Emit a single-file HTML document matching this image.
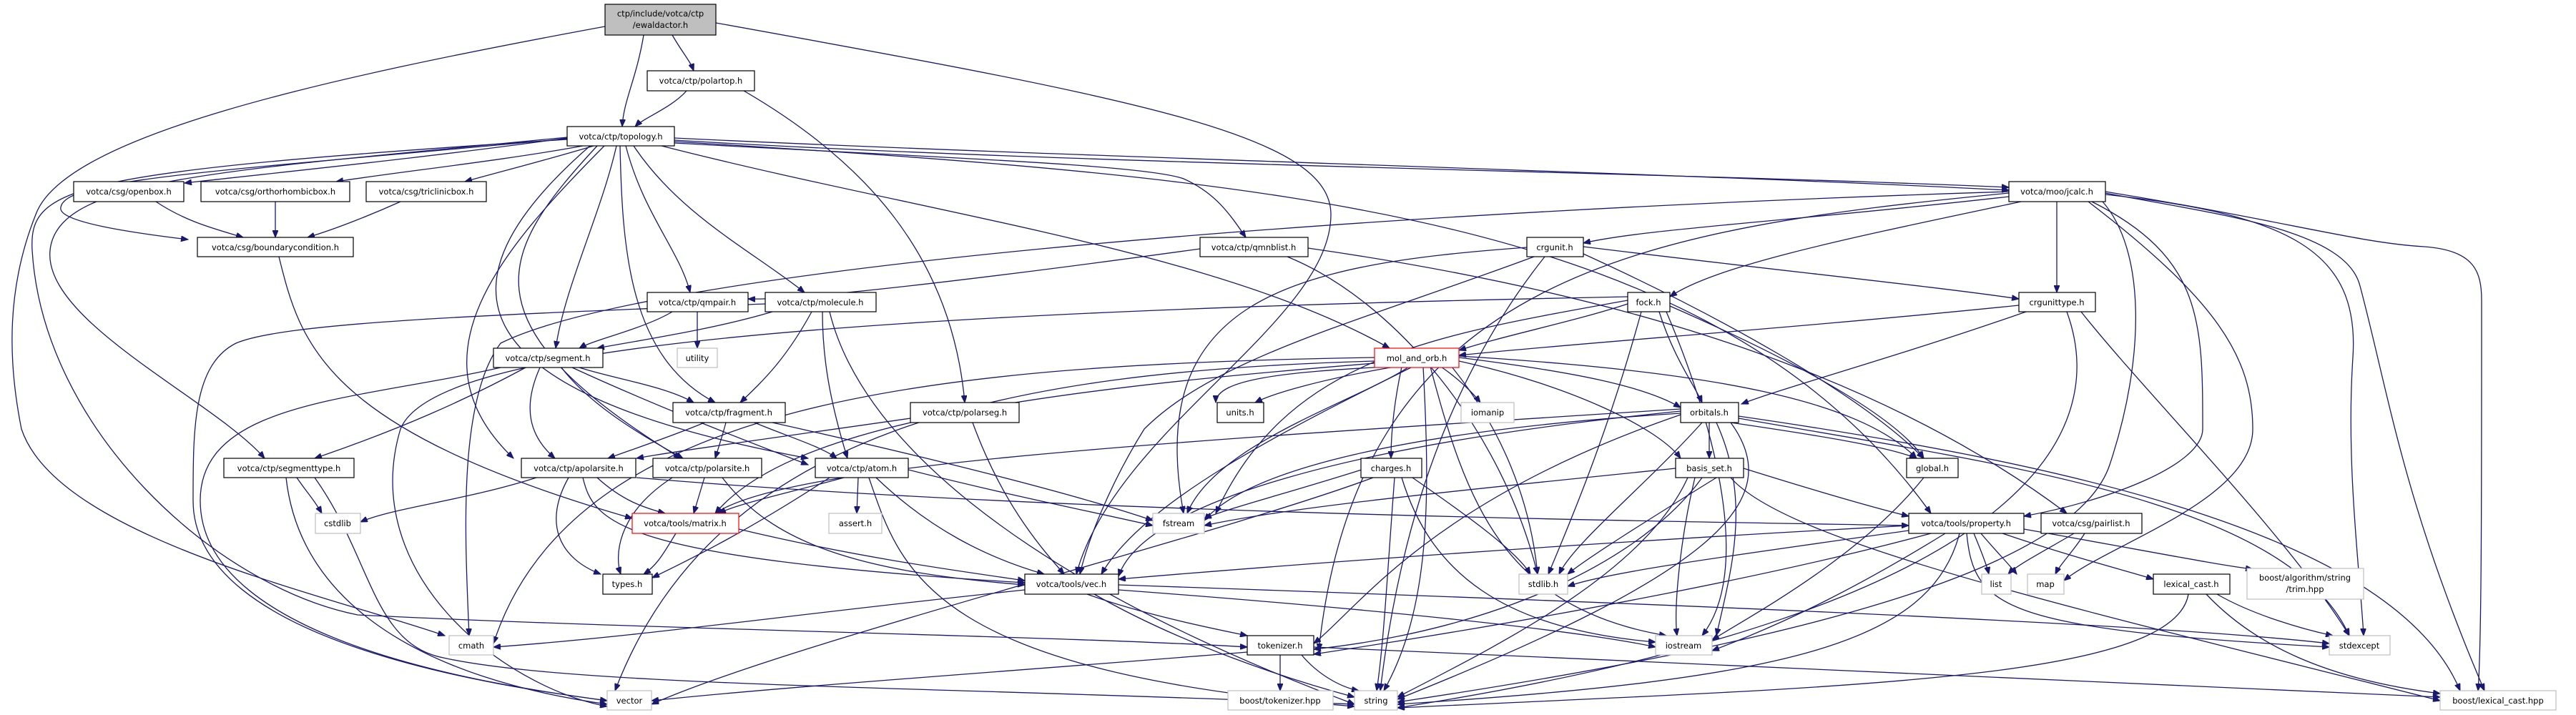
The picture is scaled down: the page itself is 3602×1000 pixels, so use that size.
<!DOCTYPE html>
<html><head><meta charset="utf-8"><style>
html,body{margin:0;padding:0;background:#fff;width:3602px;height:1000px;overflow:hidden}
svg{display:block}
text{font-family:"DejaVu Sans","Liberation Sans",sans-serif;font-size:11.5px;fill:#000}
.e path{fill:none;stroke:#191970;stroke-width:1.3}
.n{fill:#fff;stroke:#000;stroke-width:1.2}
.g{fill:#fff;stroke:#bfbfbf;stroke-width:1.2}
.r{fill:#fff;stroke:#ff0000;stroke-width:1.2}
</style></head><body>
<svg width="3602" height="1000" viewBox="0 0 3602 1000" xmlns="http://www.w3.org/2000/svg">
<defs><marker id="a" markerWidth="11" markerHeight="8" refX="10" refY="4" orient="auto" markerUnits="userSpaceOnUse"><path d="M0,0 L10,4 L0,8 z" fill="#191970" stroke="#191970"/></marker></defs>
<g class="e" marker-end="url(#a)">
<!-- ewald -->
<path d="M900 49 C890 110 872 140 870 177"/>
<path d="M940 49 C955 75 965 85 970 99"/>
<path d="M846 37 C450 110 90 190 50 300 C10 400 10 500 30 600 C80 750 450 830 622 889"/>
<path d="M1001 32 C1600 140 1861 190 1861 300 C1861 450 1560 600 1505 803"/>
<!-- polartop -->
<path d="M960 127 C940 150 900 165 888 177"/>
<path d="M1040 127 C1200 220 1330 350 1349 563"/>
<!-- topology -->
<path d="M793 193 C600 220 400 240 258 256"/>
<path d="M815 204 C700 225 560 240 470 254"/>
<path d="M830 204 C760 225 700 240 650 254"/>
<path d="M793 194 C300 240 90 250 85 290 C80 310 180 325 263 335"/>
<path d="M793 192 C300 240 80 250 70 350 C60 450 300 560 370 641"/>
<path d="M793 195 C100 240 40 260 45 350 C60 600 300 820 500 860 C900 880 1500 890 1744 905"/>
<path d="M862 204 C840 300 790 400 777 487"/>
<path d="M867 204 C870 350 880 500 1000 563"/>
<path d="M845 204 C700 350 570 500 718 641"/>
<path d="M835 204 C700 350 640 450 952 641"/>
<path d="M825 204 C600 400 640 550 1130 641"/>
<path d="M886 204 C950 300 1050 350 1125 409"/>
<path d="M875 204 C900 300 950 350 965 409"/>
<path d="M943 200 C1300 220 1600 230 1655 250 C1700 270 1720 300 1742 332"/>
<path d="M943 196 C1500 230 2300 240 2809 262"/>
<path d="M943 193 C1500 220 2300 240 2809 266"/>
<path d="M925 204 C1300 300 1700 350 1943 487"/>
<path d="M943 198 C1800 250 2400 300 2700 718"/>
<!-- boxes -->
<path d="M218 282 C260 310 300 320 340 332"/>
<path d="M385 282 L385 332"/>
<path d="M560 282 C520 300 470 320 430 332"/>
<path d="M390 359 C420 480 450 600 884 725"/>
<!-- qmpair, molecule -->
<path d="M940 436 C900 460 830 475 810 487"/>
<path d="M975 436 L975 487"/>
<path d="M1080 436 C1000 460 900 475 835 487"/>
<path d="M1135 436 C1100 500 1070 530 1035 563"/>
<path d="M1150 436 C1150 500 1160 560 1185 641"/>
<path d="M1070 425 C700 440 400 450 330 480 C270 510 270 600 270 700 C270 900 700 960 849 980"/>
<path d="M1160 436 C1200 600 1400 800 1894 985"/>
<!-- segment -->
<path d="M735 514 C650 560 560 600 440 641"/>
<path d="M755 514 C730 570 740 610 776 641"/>
<path d="M785 514 C820 560 880 600 955 641"/>
<path d="M810 514 C860 530 930 540 970 563"/>
<path d="M800 514 C900 560 1000 600 1130 650"/>
<path d="M700 514 C500 560 280 560 280 700 C280 900 700 960 849 980"/>
<!-- fragment -->
<path d="M985 591 C940 610 880 630 850 641"/>
<path d="M1015 591 C1010 610 1005 625 1000 641"/>
<path d="M1055 591 C1100 610 1150 625 1170 641"/>
<path d="M1080 591 C1300 640 1500 690 1612 728"/>
<!-- polarseg -->
<path d="M1273 585 C1100 610 950 630 890 641"/>
<path d="M1360 591 C1400 700 1450 760 1488 803"/>
<!-- segmenttype -->
<path d="M415 668 C430 690 440 700 450 718"/>
<path d="M400 668 C420 850 600 950 849 985"/>
<path d="M440 668 C520 780 520 900 620 920 C800 960 1300 960 1894 985"/>
<!-- apolarsite -->
<path d="M750 668 C650 700 550 710 504 730"/>
<path d="M835 668 C870 700 900 710 930 718"/>
<path d="M795 668 C760 730 780 780 840 803"/>
<path d="M815 668 C830 730 860 780 1433 815"/>
<path d="M890 668 C1500 720 2400 730 2669 735"/>
<!-- polarsite -->
<path d="M985 668 L970 718"/>
<path d="M940 668 C860 720 860 780 868 803"/>
<path d="M1010 668 C1080 760 1200 800 1433 818"/>
<!-- atom -->
<path d="M1180 668 C1100 690 1030 705 1005 718"/>
<path d="M1160 668 C1050 740 970 780 912 808"/>
<path d="M1200 668 L1198 718"/>
<path d="M1225 668 C1300 740 1380 780 1460 803"/>
<path d="M1270 657 C1400 690 1500 710 1612 735"/>
<path d="M1215 668 C1260 800 1300 940 1894 988"/>
<!-- matrix -->
<path d="M945 746 C930 770 920 790 900 803"/>
<path d="M1033 740 C1200 780 1350 800 1433 812"/>
<!-- vec -->
<path d="M1433 825 C1100 860 900 890 690 905"/>
<path d="M1520 831 C1600 860 1700 880 1744 889"/>
<path d="M1564 825 C1900 850 2200 880 2315 905"/>
<path d="M1530 831 C1650 900 1800 950 1894 975"/>
<path d="M1564 818 C2200 840 3000 870 3257 900"/>
<!-- tokenizer -->
<path d="M1744 912 C1400 940 1100 960 911 980"/>
<path d="M1820 916 C1840 940 1870 960 1900 966"/>
<path d="M1790 916 L1790 966"/>
<path d="M1837 905 C2400 930 3100 960 3412 975"/>
<!-- qmnblist -->
<path d="M1678 348 C1300 400 1100 420 1046 418"/>
<path d="M1829 347 C2200 400 2600 500 2890 718"/>
<path d="M1800 359 C1950 420 2100 600 2150 803"/>
<!-- crgunit -->
<path d="M2214 345 C2500 380 2700 400 2823 418"/>
<path d="M2214 355 C2400 440 2600 550 2690 641"/>
<path d="M2145 359 C1900 450 1700 500 1600 600 C1550 680 1520 760 1510 803"/>
<path d="M2160 359 C2000 560 1950 800 1930 966"/>
<path d="M2135 346 C1800 370 1600 420 1655 718"/>
<!-- jcalc -->
<path d="M2876 282 L2876 409"/>
<path d="M2809 275 C2500 310 2300 320 2214 340"/>
<path d="M2826 282 C2600 330 2400 370 2335 415"/>
<path d="M2925 282 C3080 360 3080 450 3080 600 C3080 650 2950 700 2830 722"/>
<path d="M2944 272 C3200 300 3300 350 3290 500 C3280 650 3300 800 3305 889"/>
<path d="M2944 270 C3100 300 3280 320 3300 400 C3340 550 3360 700 3474 966"/>
<path d="M2944 268 C3200 310 3300 340 3390 345 C3460 350 3470 380 3470 420 C3470 700 3470 900 3465 966"/>
<path d="M2920 282 C3100 420 3150 500 3150 600 C3150 700 2950 760 2886 812"/>
<path d="M2809 270 C2300 320 1900 380 1844 910"/>
<path d="M2940 282 C3000 350 3000 500 2950 650 C2900 800 2500 900 1954 982"/>
<path d="M2809 268 C1800 300 900 380 700 480 C640 560 650 750 656 889"/>
<!-- crgunittype -->
<path d="M2833 436 C2650 500 2500 540 2435 565"/>
<path d="M2823 427 C2500 460 2200 480 2040 497"/>
<path d="M2910 436 C3000 550 3200 750 3285 889"/>
<path d="M2890 436 C2950 600 2850 850 1954 990"/>
<!-- fock -->
<path d="M2276 425 C2200 450 2100 470 2040 490"/>
<path d="M2320 436 C2340 500 2370 540 2380 563"/>
<path d="M2335 428 C2500 500 2650 580 2690 641"/>
<path d="M2295 436 C2250 600 2200 720 2165 803"/>
<path d="M2276 420 C2000 470 1800 500 1700 718"/>
<path d="M2330 436 C2400 600 2450 800 2380 889"/>
<path d="M2276 415 C1000 440 600 500 560 600 C500 800 700 960 849 988"/>
<!-- mol_and_orb -->
<path d="M1950 513 C1850 530 1780 550 1755 563"/>
<path d="M2015 513 C2040 530 2060 550 2070 563"/>
<path d="M1970 513 C1900 560 1700 620 1660 718"/>
<path d="M1960 513 C1950 560 1945 600 1945 641"/>
<path d="M2040 505 C2200 540 2320 600 2350 641"/>
<path d="M2040 500 C2200 520 2300 540 2350 570"/>
<path d="M2040 498 C2400 520 2600 560 2680 641"/>
<path d="M2030 513 C2100 600 2140 700 2150 803"/>
<path d="M1990 513 C2000 700 2000 850 1935 966"/>
<path d="M2000 513 C2050 700 2100 850 2330 889"/>
<path d="M1922 505 C1400 520 1000 600 860 966"/>
<path d="M1975 513 C1800 600 1600 700 1540 803"/>
<path d="M1922 508 C1400 550 1100 600 1000 718"/>
<path d="M1940 513 C1800 520 1700 530 1700 563"/>
<path d="M1922 500 C1300 510 800 560 690 900"/>
<!-- orbitals -->
<path d="M2390 591 L2390 641"/>
<path d="M2420 591 C2550 610 2640 625 2680 641"/>
<path d="M2350 578 C2000 600 1750 650 1684 728"/>
<path d="M2380 591 C2300 680 2200 760 2180 803"/>
<path d="M2350 575 C1900 620 1600 700 1564 806"/>
<path d="M2400 591 C2450 700 2420 800 2400 889"/>
<path d="M2350 572 C1600 620 1100 650 1000 718"/>
<path d="M2420 591 C2500 700 2400 800 1954 978"/>
<path d="M2431 585 C2800 650 3200 700 3285 889"/>
<path d="M2431 582 C2900 650 3350 750 3440 966"/>
<path d="M2350 580 C2000 700 1900 850 1837 900"/>
<!-- charges -->
<path d="M1910 655 C1800 690 1720 710 1684 725"/>
<path d="M1975 668 C2050 720 2120 770 2140 803"/>
<path d="M1950 668 C1940 800 1935 900 1925 966"/>
<path d="M1960 668 C2000 800 2100 880 2315 898"/>
<path d="M1920 668 C1700 750 1100 900 911 985"/>
<!-- basis_set -->
<path d="M2343 655 C2000 690 1800 710 1684 735"/>
<path d="M2438 655 C2550 690 2620 710 2669 722"/>
<path d="M2400 668 C2300 730 2220 780 2192 803"/>
<path d="M2370 668 C2350 750 2340 850 2345 889"/>
<path d="M2360 668 C2300 800 2100 900 1954 975"/>
<path d="M2380 668 C2300 780 2100 880 1837 908"/>
<path d="M2420 668 C2500 760 2900 850 3412 980"/>
<!-- global -->
<path d="M2690 668 C2600 780 2450 860 2394 895"/>
<!-- property -->
<path d="M2760 746 C2770 770 2778 790 2781 803"/>
<path d="M2770 746 C2790 770 2810 790 2820 803"/>
<path d="M2800 746 C2900 780 2980 800 3011 810"/>
<path d="M2830 740 C3000 770 3100 790 3150 796"/>
<path d="M2750 746 C2760 850 2800 880 3257 905"/>
<path d="M2669 735 C2200 760 1800 790 1564 810"/>
<path d="M2700 746 C2500 800 2200 860 1837 915"/>
<path d="M2669 742 C2400 780 2250 800 2192 820"/>
<path d="M2720 746 C2600 820 2500 870 2394 910"/>
<path d="M2740 746 C2700 900 2500 950 1954 985"/>
<!-- pairlist -->
<path d="M2900 746 C2860 770 2820 790 2808 803"/>
<path d="M2915 746 C2900 770 2880 790 2874 803"/>
<!-- lexical_cast -->
<path d="M3100 831 C3150 860 3220 880 3262 889"/>
<path d="M3085 831 C3150 900 3250 950 3412 970"/>
<path d="M3060 831 C3040 950 2600 960 1954 990"/>
</g>
<!-- nodes -->
<rect x="846" y="6" width="155" height="43" fill="#bfbfbf" stroke="#000" stroke-width="1.2"/>
<text x="923.5" y="23" text-anchor="middle">ctp/include/votca/ctp</text>
<text x="923.5" y="39" text-anchor="middle">/ewaldactor.h</text>
<g text-anchor="middle">
<rect class="n" x="905" y="99" width="150" height="28"/><text x="980" y="117">votca/ctp/polartop.h</text>
<rect class="n" x="793" y="177" width="150" height="27"/><text x="868" y="195">votca/ctp/topology.h</text>
<rect class="n" x="103" y="254" width="154" height="28"/><text x="180" y="272">votca/csg/openbox.h</text>
<rect class="n" x="281" y="254" width="208" height="28"/><text x="385" y="272">votca/csg/orthorhombicbox.h</text>
<rect class="n" x="512" y="254" width="168" height="28"/><text x="596" y="272">votca/csg/triclinicbox.h</text>
<rect class="n" x="276" y="332" width="218" height="27"/><text x="385" y="350">votca/csg/boundarycondition.h</text>
<rect class="n" x="2809" y="254" width="135" height="28"/><text x="2876" y="272">votca/moo/jcalc.h</text>
<rect class="n" x="1678" y="332" width="151" height="27"/><text x="1753" y="350">votca/ctp/qmnblist.h</text>
<rect class="n" x="2135" y="332" width="79" height="27"/><text x="2174" y="350">crgunit.h</text>
<rect class="n" x="905" y="409" width="141" height="27"/><text x="975" y="427">votca/ctp/qmpair.h</text>
<rect class="n" x="1070" y="409" width="155" height="27"/><text x="1147" y="427">votca/ctp/molecule.h</text>
<rect class="n" x="2276" y="409" width="59" height="27"/><text x="2305" y="427">fock.h</text>
<rect class="n" x="2823" y="409" width="107" height="27"/><text x="2876" y="427">crgunittype.h</text>
<rect class="n" x="690" y="487" width="153" height="27"/><text x="766" y="505">votca/ctp/segment.h</text>
<rect class="g" x="947" y="487" width="56" height="27"/><text x="975" y="505">utility</text>
<rect class="r" x="1922" y="487" width="118" height="27"/><text x="1981" y="505">mol_and_orb.h</text>
<rect class="n" x="941" y="563" width="157" height="28"/><text x="1019" y="581">votca/ctp/fragment.h</text>
<rect class="n" x="1273" y="563" width="152" height="28"/><text x="1349" y="581">votca/ctp/polarseg.h</text>
<rect class="n" x="1702" y="563" width="65" height="28"/><text x="1734" y="581">units.h</text>
<rect class="g" x="2043" y="563" width="74" height="28"/><text x="2080" y="581">iomanip</text>
<rect class="n" x="2350" y="563" width="81" height="28"/><text x="2390" y="581">orbitals.h</text>
<rect class="n" x="313" y="641" width="182" height="27"/><text x="404" y="659">votca/ctp/segmenttype.h</text>
<rect class="n" x="729" y="641" width="160" height="27"/><text x="809" y="659">votca/ctp/apolarsite.h</text>
<rect class="n" x="913" y="641" width="152" height="27"/><text x="989" y="659">votca/ctp/polarsite.h</text>
<rect class="n" x="1140" y="641" width="130" height="27"/><text x="1205" y="659">votca/ctp/atom.h</text>
<rect class="n" x="1903" y="641" width="85" height="27"/><text x="1945" y="659">charges.h</text>
<rect class="n" x="2343" y="641" width="95" height="27"/><text x="2390" y="659">basis_set.h</text>
<rect class="n" x="2666" y="641" width="72" height="27"/><text x="2702" y="659">global.h</text>
<rect class="g" x="441" y="718" width="63" height="28"/><text x="472" y="736">cstdlib</text>
<rect class="r" x="884" y="718" width="149" height="28"/><text x="958" y="736">votca/tools/matrix.h</text>
<rect class="g" x="1159" y="718" width="74" height="28"/><text x="1196" y="736">assert.h</text>
<rect class="g" x="1612" y="718" width="72" height="28"/><text x="1648" y="736">fstream</text>
<rect class="n" x="2669" y="718" width="161" height="28"/><text x="2749" y="736">votca/tools/property.h</text>
<rect class="n" x="2854" y="718" width="141" height="28"/><text x="2924" y="736">votca/csg/pairlist.h</text>
<rect class="n" x="843" y="803" width="69" height="28"/><text x="877" y="821">types.h</text>
<rect class="n" x="1433" y="803" width="131" height="28"/><text x="1498" y="821">votca/tools/vec.h</text>
<rect class="g" x="2124" y="803" width="68" height="28"/><text x="2158" y="821">stdlib.h</text>
<rect class="g" x="2771" y="803" width="41" height="28"/><text x="2791" y="821">list</text>
<rect class="g" x="2835" y="803" width="51" height="28"/><text x="2860" y="821">map</text>
<rect class="n" x="3011" y="803" width="107" height="28"/><text x="3064" y="821">lexical_cast.h</text>
<rect class="g" x="3142" y="795" width="163" height="43"/><text x="3223" y="812">boost/algorithm/string</text><text x="3223" y="828">/trim.hpp</text>
<rect class="g" x="628" y="889" width="62" height="27"/><text x="659" y="907">cmath</text>
<rect class="n" x="1744" y="889" width="93" height="27"/><text x="1790" y="907">tokenizer.h</text>
<rect class="g" x="2315" y="889" width="79" height="27"/><text x="2354" y="907">iostream</text>
<rect class="g" x="3257" y="889" width="85" height="27"/><text x="3299" y="907">stdexcept</text>
<rect class="g" x="849" y="966" width="62" height="27"/><text x="880" y="984">vector</text>
<rect class="g" x="1717" y="966" width="147" height="27"/><text x="1790" y="984">boost/tokenizer.hpp</text>
<rect class="g" x="1894" y="966" width="60" height="27"/><text x="1924" y="984">string</text>
<rect class="g" x="3412" y="966" width="162" height="27"/><text x="3493" y="984">boost/lexical_cast.hpp</text>
</g>
</svg>
</body></html>
